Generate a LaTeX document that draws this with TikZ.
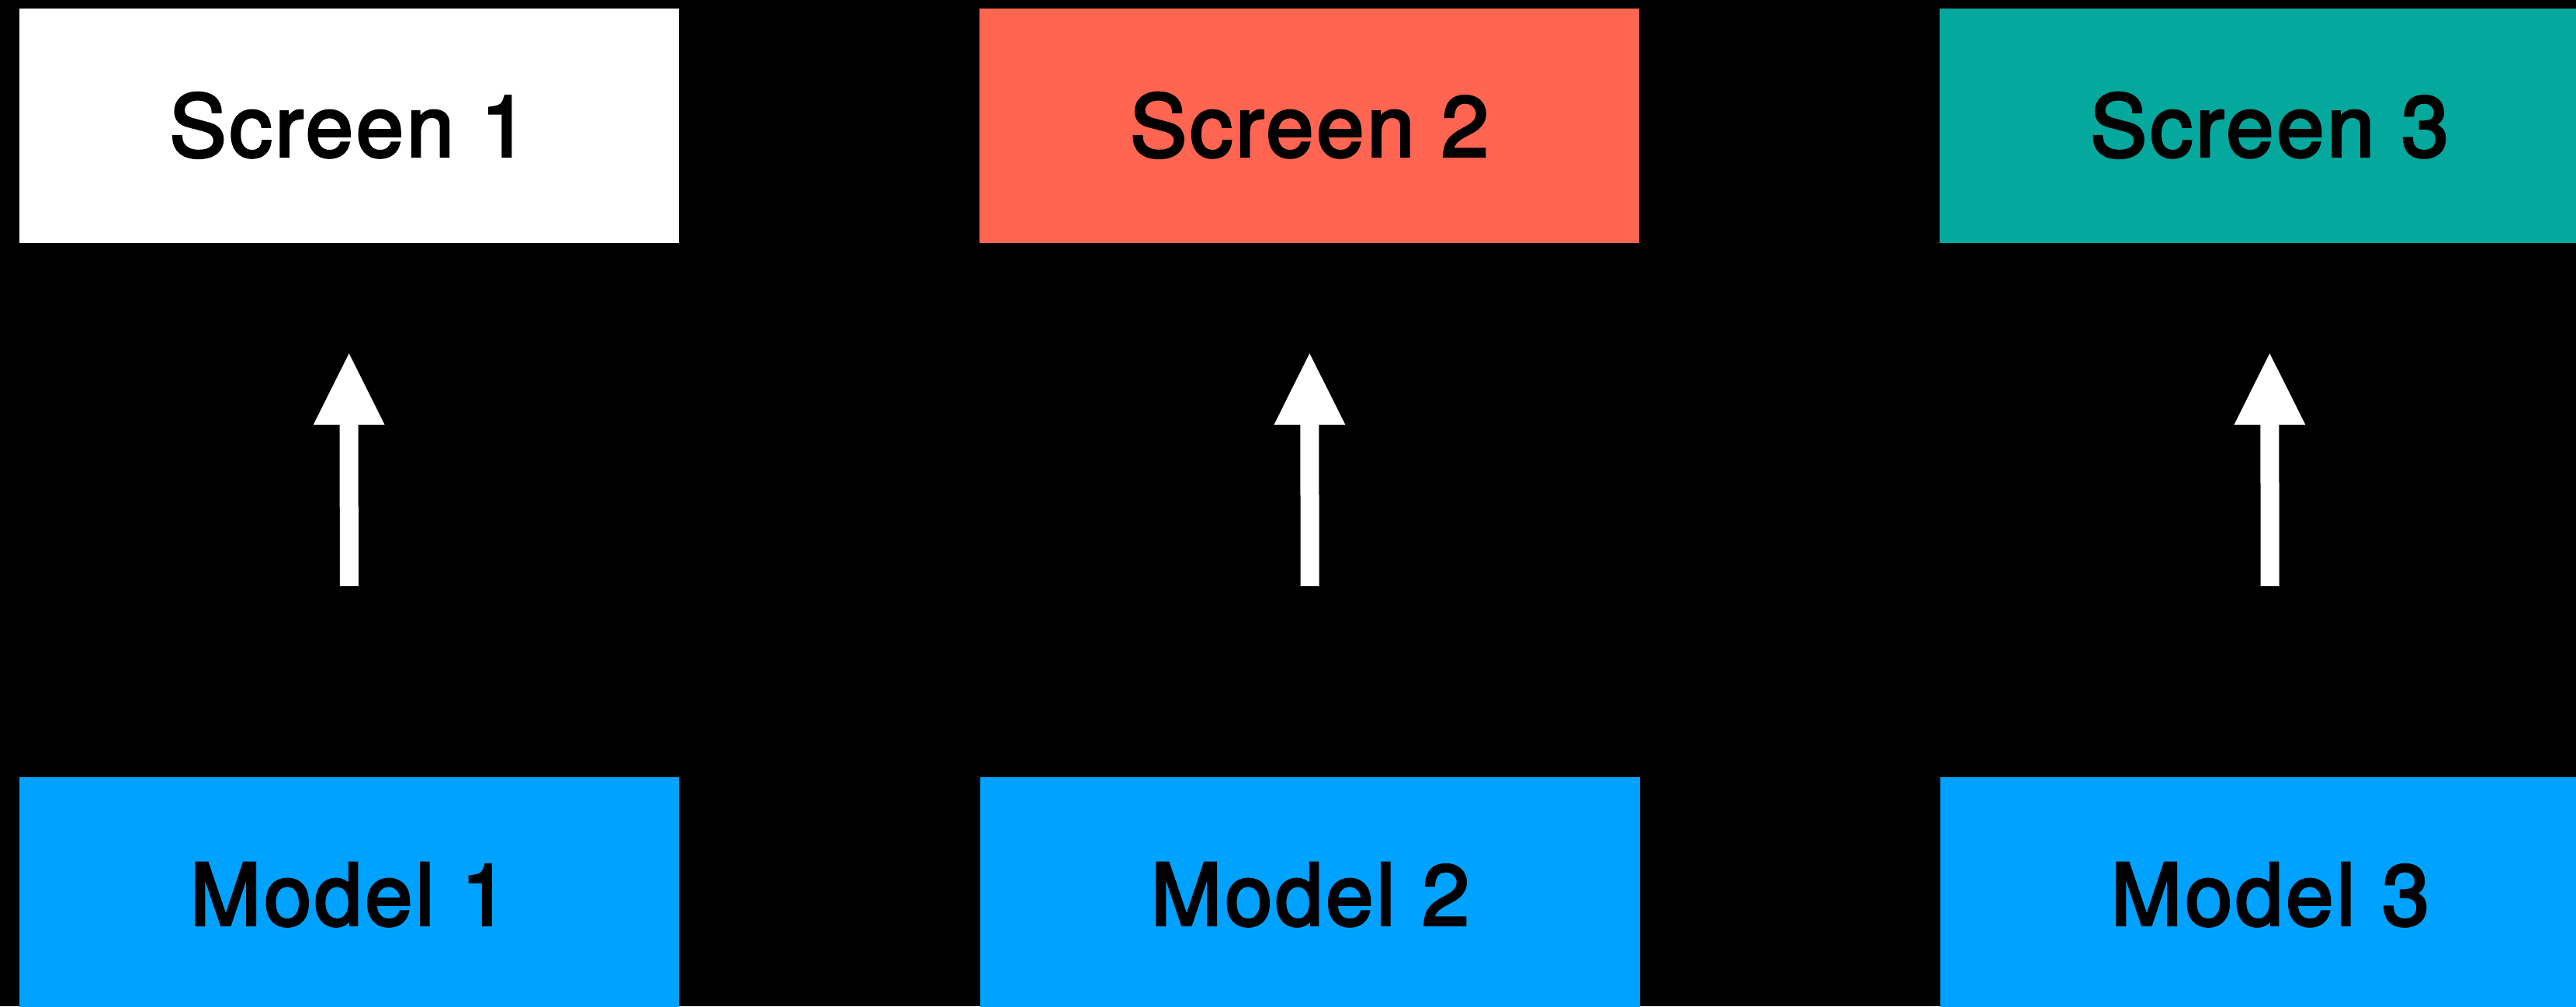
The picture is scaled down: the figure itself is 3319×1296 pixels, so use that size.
\documentclass[tikz,border=0pt]{standalone}
\usepackage{fontspec}
\setmainfont{TeX Gyre Heros}
\newfontfamily\medfont{TeX Gyre Heros}[FakeBold=3,LetterSpace=3.5]
\usetikzlibrary{arrows.meta}
\definecolor{coral}{HTML}{FF6550}
\definecolor{teal3}{HTML}{05A89D}
\definecolor{modelblue}{HTML}{00A2FF}
\tikzset{
  box/.style={minimum width=850pt, minimum height=302pt, inner sep=0pt, draw=none,
    font=\medfont\fontsize{110pt}{130pt}\selectfont, text=black, text height=79pt, text depth=0pt},
  bigarrow/.style={draw=white, line width=24pt,
    -{Triangle[width=92pt,length=92pt,line width=0pt]},
    shorten <=246pt, shorten >=142pt}
}
\begin{document}
\begin{tikzpicture}[x=1pt,y=-1pt]
\fill[black] (0,0) rectangle (3319,1296);
\useasboundingbox (0,0) rectangle (3319,1296);
\clip (0,0) rectangle (3319,1296);
\node[box, fill=white] (s1) at (449.5,162) {Screen 1};
\node[box, fill=coral] (s2) at (1687,162) {Screen 2};
\node[box, fill=teal3] (s3) at (2924,162) {Screen 3};
\node[box, fill=modelblue] (m1) at (450,1152) {Model 1};
\node[box, fill=modelblue] (m2) at (1688,1152) {Model 2};
\node[box, fill=modelblue] (m3) at (2925,1152) {Model 3};
\draw[bigarrow] (m1) -- (s1);
\draw[bigarrow] (m2) -- (s2);
\draw[bigarrow] (m3) -- (s3);
\end{tikzpicture}
\end{document}
